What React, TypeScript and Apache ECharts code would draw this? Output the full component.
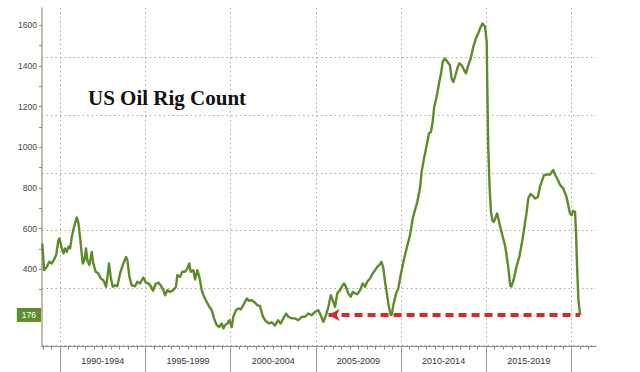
import React, { useEffect, useRef } from "react";
import * as echarts from "echarts";

// Decimal years and weekly-ish US oil rig counts
const yearPoints = [
  1988.96, 1989.06, 1989.22, 1989.37, 1989.51, 1989.65, 1989.77, 1989.9, 1989.96,
  1990.1, 1990.2, 1990.29, 1990.39, 1990.49, 1990.59, 1990.69, 1990.82, 1990.98,
  1991.08, 1991.17, 1991.33, 1991.43, 1991.52, 1991.6, 1991.72, 1991.86, 1991.95,
  1992.09, 1992.25, 1992.39, 1992.54, 1992.7, 1992.78, 1992.87, 1992.97,
  1993.09, 1993.23, 1993.36, 1993.52, 1993.71, 1993.87, 1993.95,
  1994.07, 1994.2, 1994.4, 1994.53, 1994.69, 1994.89,
  1995.04, 1995.18, 1995.3, 1995.45, 1995.6, 1995.77, 1995.9,
  1996.06, 1996.16, 1996.29, 1996.45, 1996.65, 1996.8, 1996.88,
  1997.04, 1997.17, 1997.33, 1997.47, 1997.58, 1997.66, 1997.82, 1997.92,
  1998.05, 1998.17, 1998.31, 1998.45, 1998.6, 1998.76, 1998.9,
  1999.03, 1999.19, 1999.34, 1999.48, 1999.58, 1999.68, 1999.81, 1999.93,
  2000.07, 2000.16, 2000.32, 2000.46, 2000.6, 2000.75, 2000.95,
  2001.1, 2001.24, 2001.44, 2001.57, 2001.73, 2001.89,
  2002.02, 2002.12, 2002.28, 2002.42, 2002.61, 2002.78, 2002.94,
  2003.1, 2003.26, 2003.39, 2003.59, 2003.78, 2003.98,
  2004.18, 2004.37, 2004.56, 2004.76, 2004.96,
  2005.15, 2005.29, 2005.44, 2005.6, 2005.74, 2005.88, 2005.99,
  2006.13, 2006.26, 2006.42, 2006.58, 2006.66, 2006.77, 2006.91,
  2007.05, 2007.17, 2007.3, 2007.44, 2007.6, 2007.75, 2007.89,
  2008.02, 2008.18, 2008.34, 2008.48, 2008.61, 2008.73, 2008.85, 2008.96,
  2009.08, 2009.2, 2009.28, 2009.4, 2009.46, 2009.55, 2009.71, 2009.84, 2009.98,
  2010.14, 2010.33, 2010.53, 2010.69, 2010.82, 2010.96,
  2011.11, 2011.21, 2011.35, 2011.51, 2011.64, 2011.76, 2011.86, 2011.95,
  2012.09, 2012.23, 2012.35, 2012.45, 2012.58, 2012.72, 2012.87, 2012.97,
  2013.07, 2013.17, 2013.3, 2013.42, 2013.56, 2013.7, 2013.81, 2013.95,
  2014.09, 2014.24, 2014.4, 2014.53, 2014.68, 2014.79, 2014.93,
  2015.03, 2015.06, 2015.12, 2015.2, 2015.28, 2015.36, 2015.45, 2015.64, 2015.73, 2015.92,
  2016.12, 2016.29, 2016.41, 2016.48, 2016.6, 2016.77, 2016.94,
  2017.12, 2017.36, 2017.47, 2017.6, 2017.75, 2017.86,
  2018.03, 2018.15, 2018.39, 2018.56, 2018.75, 2018.93,
  2019.04, 2019.2, 2019.33, 2019.52, 2019.71, 2019.81, 2019.91,
  2020.01, 2020.1, 2020.21, 2020.27, 2020.33, 2020.41, 2020.5, 2020.53,
];

const rigCount = [
  527, 396, 412, 437, 429, 449, 470, 543, 552,
  503, 478, 503, 486, 511, 503, 560, 609, 655,
  626, 560, 429, 445, 503, 445, 421, 486, 429,
  388, 380, 355, 347, 314, 363, 429, 363,
  314, 322, 317, 380, 429, 461, 445,
  363, 322, 317, 339, 331, 360,
  334, 331, 320, 295, 328, 335, 322,
  298, 273, 298, 289, 298, 314, 372,
  363, 388, 388, 404, 429, 388, 396, 350,
  396, 363, 298, 265, 240, 216, 199,
  159, 126, 117, 134, 110, 126, 134, 150,
  117, 167, 199, 208, 203, 224, 257,
  245, 249, 236, 224, 219, 170,
  150, 142, 134, 140, 124, 150, 134,
  159, 183, 167, 159, 159, 150,
  167, 167, 183, 175, 191,
  199, 175, 142, 175, 216, 273, 249,
  216, 282, 298, 322, 331, 314, 282,
  265, 289, 282, 278, 298, 331, 314,
  339, 355, 380, 396, 412, 421, 437, 408,
  330, 265, 220, 176, 178, 224, 282, 306, 371,
  437, 503, 568, 650, 691, 732,
  797, 879, 945, 1010, 1068, 1076, 1125, 1199,
  1248, 1313, 1363, 1420, 1436, 1420, 1403, 1338,
  1321, 1346, 1387, 1412, 1403, 1379, 1363, 1403,
  1436, 1493, 1535, 1559, 1592, 1608, 1592,
  1518, 1321, 994, 800, 680, 640, 633, 675, 642, 576,
  511, 412, 320, 316, 347, 412, 461,
  543, 675, 750, 770, 760, 748,
  756, 805, 863, 866, 866, 888,
  865, 840, 815, 797, 756, 716, 675,
  666, 687, 683, 576, 412, 249, 183, 176,
];

const periodLabels = ["1990-1994", "1995-1999", "2000-2004", "2005-2009", "2010-2014", "2015-2019"];
const periodBounds = [1990, 1995, 2000, 2005, 2010, 2015, 2020];
const periodCenters = [1992.5, 1997.5, 2002.5, 2007.5, 2012.5, 2017.5];
const yLabelValues = [400, 600, 800, 1000, 1200, 1400, 1600];
const yTickValues = [200, 300, 400, 500, 600, 700, 800, 900, 1000, 1100, 1200, 1300, 1400, 1500, 1600];
const gridLevels = [25, 308, 593, 874, 1158, 1444];
const latestValue = 176;
const arrowFromYear = 2005.75;
const arrowToYear = 2020.5;
const titleText = "US Oil Rig Count";

const X_MIN = 1988.94;
const X_MAX = 2021.44;

export default function App() {
  const ref = useRef<HTMLDivElement>(null);

  useEffect(() => {
    if (!ref.current) return;
    const chart = echarts.init(ref.current, null, { renderer: "svg" });

    const halfYearTicks: number[] = [];
    for (let y = 1989; y <= 2021.0001; y += 0.5) halfYearTicks.push(y);

    const lineData = yearPoints.map((x, i) => [x, rigCount[i]]);

    const dotted = { color: "#a8a8a8", type: [1.5, 3] as any, width: 1 };
    const arrowStyle = { color: "#d42a2a", type: [8, 5] as any, width: 4 };

    chart.setOption({
      animation: false,
      backgroundColor: "#ffffff",
      textStyle: { fontFamily: "Liberation Sans" },
      title: {
        text: titleText,
        left: 88,
        top: 87,
        padding: 0,
        textStyle: {
          fontFamily: "Liberation Serif",
          fontWeight: "bold",
          fontSize: 21,
          color: "#111111",
        },
      },
      grid: { left: 42, right: 44, top: 8, bottom: 25.3, containLabel: false },
      xAxis: [
        {
          type: "value",
          min: X_MIN,
          max: X_MAX,
          position: "bottom",
          axisLine: { show: true, lineStyle: { color: "#8c8c8c", width: 1 } },
          axisTick: { show: true, length: 3, customValues: halfYearTicks, lineStyle: { color: "#8c8c8c" } },
          axisLabel: { show: false },
          splitLine: { show: false },
        },
        {
          type: "value",
          min: X_MIN,
          max: X_MAX,
          position: "bottom",
          offset: 0,
          axisLine: { show: false },
          axisTick: { show: true, length: 27, customValues: periodBounds, lineStyle: { color: "#9a9a9a" } },
          axisLabel: {
            show: true,
            customValues: periodCenters,
            formatter: (v: number) => {
              const i = periodCenters.findIndex((c) => Math.abs(c - v) < 0.01);
              return i >= 0 ? periodLabels[i] : "";
            },
            fontSize: 9,
            color: "#333333",
            margin: 10,
          },
          splitLine: { show: false },
        },
      ],
      yAxis: {
        type: "value",
        min: 20,
        max: 1684,
        axisLine: { show: true, lineStyle: { color: "#aaa689", width: 1.5 } },
        axisTick: { show: true, length: 3, customValues: yTickValues, lineStyle: { color: "#8c8c8c" } },
        axisLabel: {
          show: true,
          customValues: yLabelValues,
          formatter: (v: number) => String(v),
          fontSize: 8.5,
          color: "#444444",
          margin: 5,
        },
        splitLine: { show: false },
      },
      series: [
        {
          type: "line",
          data: [],
          silent: true,
          markLine: {
            silent: true,
            z: 1,
            symbol: "none",
            label: { show: false },
            lineStyle: dotted,
            data: [
              ...periodBounds.map((x) => ({ xAxis: x, lineStyle: dotted })),
              ...gridLevels.map((y) => ({ yAxis: y, lineStyle: dotted })),
            ],
          },
        },
        {
          type: "line",
          data: lineData,
          showSymbol: false,
          symbol: "none",
          z: 3,
          lineStyle: { color: "#5e8b2a", width: 2.4, join: "round" },
          markLine: {
            silent: true,
            z: 6,
            symbol: "none",
            label: { show: false },
            data: [
              [
                {
                  coord: [arrowFromYear, latestValue],
                  symbol: "arrow",
                  symbolSize: [9, 11],
                  lineStyle: arrowStyle,
                },
                {
                  coord: [arrowToYear, latestValue],
                  symbol: "none",
                  lineStyle: arrowStyle,
                },
              ],
              {
                yAxis: latestValue,
                lineStyle: { color: "rgba(0,0,0,0)", width: 1, type: "solid" },
                label: {
                  show: true,
                  position: "start",
                  formatter: String(latestValue),
                  color: "#ffffff",
                  backgroundColor: "#5e8f2c",
                  padding: [3, 5, 2, 5],
                  fontSize: 8.5,
                  distance: 1,
                },
              },
            ],
          },
        },
      ],
    });

    return () => chart.dispose();
  }, []);

  return (
    <div
      ref={ref}
      style={{ position: "fixed", left: 0, top: 0, width: 640, height: 372, background: "#fff" }}
    />
  );
}
